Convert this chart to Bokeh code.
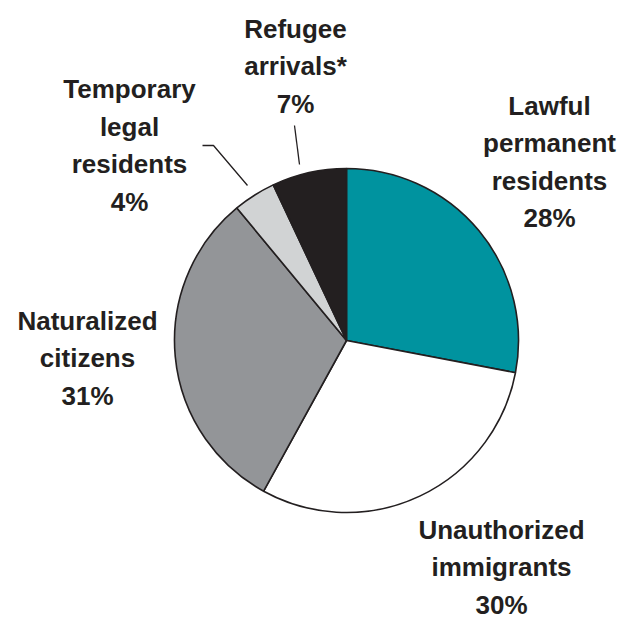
import math
from bokeh.plotting import figure
from bokeh.models import Range1d, ColumnDataSource
from bokeh.core.properties import value
from bokeh.embed import file_html
from bokeh.resources import INLINE

# ---- data ----
categories = ["Lawful\npermanent\nresidents", "Unauthorized\nimmigrants",
              "Naturalized\ncitizens", "Temporary\nlegal\nresidents",
              "Refugee\narrivals*"]
shares = [28, 30, 31, 4, 7]
pct_labels = ["28%", "30%", "31%", "4%", "7%"]
colors = ["#00939F", "#FFFFFF", "#939598", "#D1D3D4", "#231F20"]

# ---- layout (pixel coordinates, y measured from top) ----
W, H = 622, 618
cx, cy, R = 346, 340, 172
label_pos = [(549, 105), (501, 529), (87, 320), (129, 88.5), (295, 28)]
line_gap = 37.5
leaders = [None, None, None,
           ([202, 213, 247], [145, 145, 185]),
           ([294, 299], [125, 164])]

def Y(py):
    return H - py

total = float(sum(shares))
starts, ends = [], []
cum = 0.0
for s in shares:
    a_end = math.pi / 2 - 2 * math.pi * cum / total
    cum += s
    a_start = math.pi / 2 - 2 * math.pi * cum / total
    starts.append(a_start)
    ends.append(a_end)

p = figure(width=W, height=H, output_backend="svg", toolbar_location=None,
           x_range=Range1d(0, W), y_range=Range1d(0, H),
           x_axis_location=None, y_axis_location=None, min_border=0,
           outline_line_color=None, background_fill_color="white",
           border_fill_color="white")
p.grid.visible = False

src = ColumnDataSource(dict(x=[cx] * len(shares), y=[Y(cy)] * len(shares),
                            start=starts, end=ends, color=colors))
p.wedge(x="x", y="y", radius=R, start_angle="start", end_angle="end",
        direction="anticlock", fill_color="color", line_color="#231F20",
        line_width=1.6, source=src)

# leader lines
for ld in leaders:
    if ld is None:
        continue
    xs, ys = ld
    p.line(xs, [Y(v) for v in ys], line_color="#231F20", line_width=1.3)

# labels
tx, ty, tt = [], [], []
for cat, pct, (lx, ly) in zip(categories, pct_labels, label_pos):
    lines = cat.split("\n") + [pct]
    for i, ln in enumerate(lines):
        tx.append(lx)
        ty.append(Y(ly + i * line_gap))
        tt.append(ln)
p.text(x=tx, y=ty, text=tt, text_align="center", text_baseline="alphabetic",
       text_font=value("Liberation Sans"), text_font_style="bold",
       text_font_size="26px", text_color="#231F20")

open("out.html", "w").write(file_html(p, INLINE))
